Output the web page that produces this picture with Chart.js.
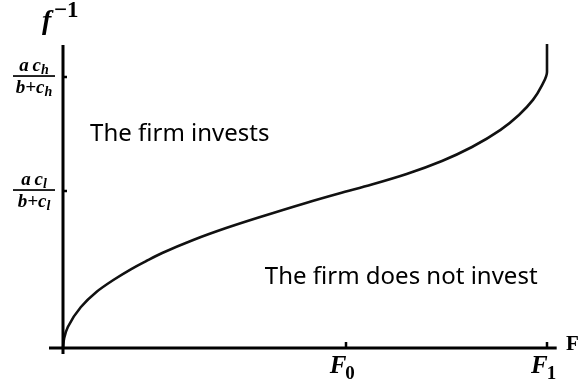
<!DOCTYPE html>
<html>
<head>
<meta charset="utf-8">
<script src="https://cdn.jsdelivr.net/npm/chart.js@4/dist/chart.umd.min.js"></script>
<style>
  html, body { margin: 0; padding: 0; background: #fff; }
  #wrap { width: 581px; height: 385px; }
</style>
</head>
<body>
<div id="wrap"><canvas id="c" width="581" height="385"></canvas></div>
<script>
// Inverse threshold f^{-1} as a function of F (schematic units, F1 = 1)
const curveF    = [0, 0.0025, 0.010, 0.037, 0.069, 0.104, 0.141, 0.172, 0.205, 0.269, 0.337, 0.404, 0.502, 0.570, 0.638, 0.710, 0.783, 0.845, 0.904, 0.942, 0.971, 0.989, 1.0, 1.0];
const curveFinv = [0, 0.064, 0.134, 0.261, 0.357, 0.433, 0.503, 0.554, 0.605, 0.688, 0.764, 0.831, 0.924, 0.984, 1.041, 1.108, 1.191, 1.280, 1.389, 1.484, 1.580, 1.669, 1.758, 1.936];

// Marked levels on each axis
const xTickValues = [0.584, 1.0];           // F0, F1
const xTickNames  = [['F', '0'], ['F', '1']];
const yTickValues = [1.0, 1.726];           // a c_l/(b+c_l), a c_h/(b+c_h)
const yTickSubs   = ['l', 'h'];

const regionLabels = [
  { text: 'The firm invests', x: 0.056, y: 1.36 },
  { text: 'The firm does not invest', x: 0.417, y: 0.45 }
];

const serifBI = (s) => `bold italic ${s}px "Liberation Serif", "DejaVu Serif", serif`;
const serifB  = (s) => `bold ${s}px "Liberation Serif", "DejaVu Serif", serif`;
const sansTxt = '24px "Noto Sans", "DejaVu Sans", sans-serif';

const axesPlugin = {
  id: 'axesPlugin',
  afterDatasetsDraw(chart) {
    const ctx = chart.ctx;
    const xs = chart.scales.x, ys = chart.scales.y;
    const x0 = xs.getPixelForValue(0), y0 = ys.getPixelForValue(0);
    const xEnd = xs.getPixelForValue(1.02);
    const yTop = ys.getPixelForValue(ys.max);
    ctx.save();
    ctx.strokeStyle = '#000';
    ctx.lineWidth = 3;
    ctx.lineCap = 'butt';
    // axes
    ctx.beginPath();
    ctx.moveTo(x0 - 14, y0); ctx.lineTo(xEnd, y0);
    ctx.moveTo(x0, yTop + 1); ctx.lineTo(x0, y0 + 6);
    ctx.stroke();
    // tick marks
    ctx.lineWidth = 2.5;
    ctx.beginPath();
    xTickValues.forEach(v => {
      const p = Math.round(xs.getPixelForValue(v));
      ctx.moveTo(p, y0); ctx.lineTo(p, y0 - 6);
    });
    yTickValues.forEach(v => {
      const p = Math.round(ys.getPixelForValue(v));
      ctx.moveTo(x0, p); ctx.lineTo(x0 + 4, p);
    });
    ctx.stroke();

    ctx.fillStyle = '#000';
    ctx.textBaseline = 'alphabetic';
    ctx.textAlign = 'left';
    // x tick labels: F with bold subscript
    xTickValues.forEach((v, i) => {
      const p = xs.getPixelForValue(v);
      ctx.font = serifBI(25);
      const wF = ctx.measureText(xTickNames[i][0]).width;
      ctx.fillText(xTickNames[i][0], p - 16, y0 + 25);
      ctx.font = serifB(19);
      ctx.fillText(xTickNames[i][1], p - 16 + wF - 1, y0 + 31);
    });
    // y tick labels: fractions a c / (b + c)
    yTickValues.forEach((v, i) => {
      const bar = ys.getPixelForValue(v) - 1;
      const cx = 34;
      const sub = yTickSubs[i];
      ctx.font = serifBI(14);
      const wSub = ctx.measureText(sub).width;
      // numerator
      ctx.font = serifBI(19);
      const num = 'a\u2009c';
      const wNum = ctx.measureText(num).width;
      let sx = cx - (wNum + wSub) / 2;
      ctx.fillText(num, sx, bar - 5);
      ctx.font = serifBI(14);
      ctx.fillText(sub, sx + wNum, bar - 2);
      // fraction bar
      ctx.fillRect(cx - 21, bar - 0.8, 42, 1.7);
      // denominator
      ctx.font = serifBI(19);
      const den = 'b+c';
      const wDen = ctx.measureText(den).width;
      sx = cx - (wDen + wSub) / 2;
      ctx.fillText(den, sx, bar + 17);
      ctx.font = serifBI(14);
      ctx.fillText(sub, sx + wDen, bar + 20);
    });
    // axis names
    ctx.font = serifBI(28);
    ctx.fillText('f', 42, 29);
    ctx.font = serifB(23);
    ctx.fillText('\u22121', 54, 17);
    ctx.font = serifB(21);
    ctx.fillText('F', 566, 350);
    // region labels
    ctx.font = sansTxt;
    ctx.textBaseline = 'middle';
    regionLabels.forEach(r => {
      ctx.fillText(r.text, xs.getPixelForValue(r.x), ys.getPixelForValue(r.y));
    });
    ctx.restore();
  }
};

new Chart(document.getElementById('c'), {
  type: 'line',
  data: {
    datasets: [{
      data: curveF.map((f, i) => ({ x: f, y: curveFinv[i] })),
      borderColor: '#111',
      borderWidth: 2.6,
      pointRadius: 0,
      cubicInterpolationMode: 'monotone',
      clip: false,
      fill: false
    }]
  },
  plugins: [axesPlugin],
  options: {
    indexAxis: 'y',
    responsive: false,
    animation: false,
    events: [],
    layout: { padding: { left: 63, right: 34, top: 44, bottom: 37 } },
    plugins: { legend: { display: false }, tooltip: { enabled: false } },
    scales: {
      x: { type: 'linear', min: 0, max: 1, display: false },
      y: { type: 'linear', min: 0, max: 1.936, display: false }
    }
  }
});
</script>
</body>
</html>
